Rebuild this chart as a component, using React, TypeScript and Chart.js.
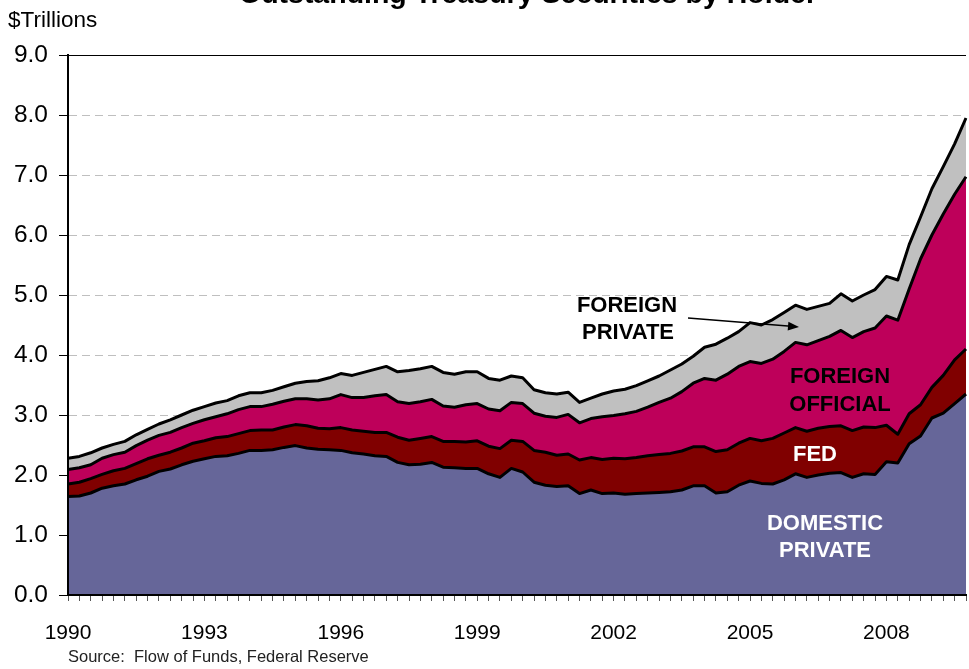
import React, { useEffect, useRef } from "react";
import { Chart, registerables } from "chart.js";

Chart.register(...registerables);

const years = [1990, 1991, 1992, 1993, 1994, 1995, 1996, 1997, 1998, 1999, 2000, 2001, 2002, 2003, 2004, 2005, 2006, 2007, 2008, 2009];
const quarters = ["Q1", "Q2", "Q3", "Q4"];
const yearTickLabels = ["1990", "1993", "1996", "1999", "2002", "2005", "2008"];
const yTicks = [0, 1, 2, 3, 4, 5, 6, 7, 8, 9];

const domesticPrivate = [
  1.64, 1.65, 1.70, 1.78, 1.82, 1.85, 1.92, 1.98, 2.06, 2.10,
  2.17, 2.23, 2.27, 2.31, 2.32, 2.36, 2.41, 2.41, 2.42, 2.46,
  2.49, 2.45, 2.43, 2.42, 2.41, 2.37, 2.35, 2.32, 2.31, 2.21,
  2.17, 2.18, 2.21, 2.13, 2.12, 2.11, 2.11, 2.02, 1.96, 2.11,
  2.05, 1.88, 1.83, 1.81, 1.82, 1.69, 1.75, 1.69, 1.70, 1.68,
  1.69, 1.70, 1.71, 1.72, 1.75, 1.82, 1.82, 1.70, 1.72, 1.83,
  1.90, 1.86, 1.85, 1.92, 2.02, 1.96, 2.00, 2.03, 2.04, 1.96,
  2.02, 2.01, 2.22, 2.20, 2.52, 2.65, 2.95, 3.03, 3.19, 3.35,
];
const fed = [
  0.21, 0.23, 0.24, 0.23, 0.25, 0.26, 0.27, 0.29, 0.27, 0.28,
  0.28, 0.30, 0.30, 0.31, 0.32, 0.33, 0.33, 0.34, 0.33, 0.34,
  0.35, 0.37, 0.35, 0.35, 0.38, 0.38, 0.38, 0.39, 0.40, 0.42,
  0.41, 0.43, 0.43, 0.43, 0.44, 0.44, 0.46, 0.46, 0.48, 0.47,
  0.51, 0.53, 0.55, 0.52, 0.53, 0.56, 0.54, 0.57, 0.58, 0.59,
  0.60, 0.62, 0.63, 0.64, 0.65, 0.65, 0.65, 0.69, 0.70, 0.70,
  0.71, 0.71, 0.76, 0.78, 0.77, 0.77, 0.78, 0.78, 0.78, 0.78,
  0.78, 0.78, 0.61, 0.48, 0.50, 0.52, 0.51, 0.63, 0.73, 0.75,
];
const foreignOfficial = [
  0.24, 0.24, 0.23, 0.27, 0.27, 0.27, 0.30, 0.31, 0.33, 0.33,
  0.34, 0.33, 0.35, 0.35, 0.38, 0.40, 0.40, 0.39, 0.43, 0.43,
  0.43, 0.45, 0.47, 0.50, 0.55, 0.54, 0.56, 0.61, 0.63, 0.59,
  0.61, 0.61, 0.62, 0.59, 0.57, 0.62, 0.62, 0.62, 0.63, 0.63,
  0.63, 0.62, 0.60, 0.63, 0.66, 0.62, 0.65, 0.71, 0.71, 0.75,
  0.77, 0.81, 0.87, 0.92, 0.99, 1.06, 1.14, 1.19, 1.26, 1.28,
  1.28, 1.29, 1.32, 1.36, 1.42, 1.44, 1.46, 1.50, 1.59, 1.55,
  1.59, 1.66, 1.82, 1.90, 2.08, 2.43, 2.54, 2.69, 2.76, 2.87,
];
const foreignPrivate = [
  0.19, 0.19, 0.20, 0.17, 0.17, 0.18, 0.18, 0.18, 0.19, 0.21,
  0.21, 0.22, 0.22, 0.23, 0.22, 0.23, 0.23, 0.23, 0.23, 0.24,
  0.26, 0.29, 0.32, 0.35, 0.35, 0.37, 0.42, 0.44, 0.47, 0.50,
  0.55, 0.55, 0.55, 0.56, 0.55, 0.55, 0.53, 0.51, 0.51, 0.44,
  0.43, 0.39, 0.39, 0.39, 0.37, 0.34, 0.34, 0.38, 0.41, 0.41,
  0.43, 0.44, 0.44, 0.47, 0.46, 0.45, 0.52, 0.60, 0.60, 0.58,
  0.65, 0.64, 0.66, 0.65, 0.62, 0.59, 0.57, 0.55, 0.61, 0.61,
  0.61, 0.64, 0.66, 0.67, 0.74, 0.70, 0.77, 0.79, 0.84, 0.98,
];

const FONT = '"Liberation Sans", Arial, Helvetica, sans-serif';

const labels = years.flatMap((y) => quarters.map((q) => `${y} ${q}`));

const textPlugin = {
  id: "textPlugin",
  afterDraw(chart: any) {
    const ctx = chart.ctx as CanvasRenderingContext2D;
    const area = chart.chartArea;
    ctx.save();
    // top border of plot area at 9.0
    ctx.strokeStyle = "#000";
    ctx.lineWidth = 1;
    ctx.beginPath();
    ctx.moveTo(area.left, Math.round(area.top) + 0.5);
    ctx.lineTo(area.right, Math.round(area.top) + 0.5);
    ctx.stroke();

    // Title (partially cut off at the top)
    ctx.fillStyle = "#000";
    ctx.font = `bold 28.5px ${FONT}`;
    ctx.textAlign = "center";
    ctx.textBaseline = "alphabetic";
    ctx.fillText("Outstanding Treasury Securities by Holder", 528, 3);

    ctx.font = `22.5px ${FONT}`;
    ctx.textAlign = "left";
    ctx.textBaseline = "middle";
    ctx.fillText("$Trillions", 8, 21);

    ctx.font = `16.5px ${FONT}`;
    ctx.fillStyle = "#222";
    ctx.fillText("Source:  Flow of Funds, Federal Reserve", 68, 657);

    ctx.font = `bold 22px ${FONT}`;
    ctx.textAlign = "center";
    ctx.fillStyle = "#000";
    ctx.fillText("FOREIGN", 627, 306);
    ctx.fillText("PRIVATE", 628, 333);
    ctx.fillText("FOREIGN", 840, 377);
    ctx.fillText("OFFICIAL", 840, 405);
    ctx.fillStyle = "#fff";
    ctx.fillText("FED", 815, 455);
    ctx.fillText("DOMESTIC", 825, 524);
    ctx.fillText("PRIVATE", 825, 551);

    // arrow
    const x1 = 688, y1 = 318, x2 = 799, y2 = 327;
    ctx.strokeStyle = "#000";
    ctx.lineWidth = 1.5;
    ctx.beginPath();
    ctx.moveTo(x1, y1);
    ctx.lineTo(x2 - 8, y2 - 0.65);
    ctx.stroke();
    const ang = Math.atan2(y2 - y1, x2 - x1);
    ctx.fillStyle = "#000";
    ctx.beginPath();
    ctx.moveTo(x2, y2);
    ctx.lineTo(x2 - 11 * Math.cos(ang) + 4.5 * Math.sin(ang), y2 - 11 * Math.sin(ang) - 4.5 * Math.cos(ang));
    ctx.lineTo(x2 - 11 * Math.cos(ang) - 4.5 * Math.sin(ang), y2 - 11 * Math.sin(ang) + 4.5 * Math.cos(ang));
    ctx.closePath();
    ctx.fill();
    ctx.restore();
  },
};

export default function App() {
  const ref = useRef<HTMLCanvasElement | null>(null);
  useEffect(() => {
    if (!ref.current) return;
    const common = {
      borderColor: "#000",
      borderWidth: 3,
      pointRadius: 0,
      tension: 0,
      borderJoinStyle: "round" as const,
    };
    const chart = new Chart(ref.current, {
      type: "line",
      data: {
        labels,
        datasets: [
          { label: "Domestic Private", data: domesticPrivate, backgroundColor: "#666699", fill: "origin", ...common },
          { label: "Fed", data: fed, backgroundColor: "#800000", fill: "-1", ...common },
          { label: "Foreign Official", data: foreignOfficial, backgroundColor: "#BE005A", fill: "-1", ...common },
          { label: "Foreign Private", data: foreignPrivate, backgroundColor: "#C0C0C0", fill: "-1", ...common },
        ],
      },
      options: {
        animation: false,
        responsive: false,
        maintainAspectRatio: false,
        layout: { padding: { top: 55, right: 3, bottom: 0, left: 0 } },
        plugins: {
          legend: { display: false },
          title: { display: false },
          tooltip: { enabled: false },
        },
        scales: {
          x: {
            type: "category",
            offset: false,
            afterFit: (s: any) => {
              s.height = 74;
              s.paddingRight = 0;
              s.paddingLeft = 0;
            },
            grid: {
              display: true,
              drawOnChartArea: false,
              drawTicks: true,
              tickLength: 6,
              tickColor: "#555",
              tickWidth: 1,
              offset: false,
            },
            border: { display: true, color: "#000", width: 2, z: 1 },
            ticks: {
              autoSkip: false,
              maxRotation: 0,
              minRotation: 0,
              padding: 20,
              color: "#000",
              font: { family: FONT, size: 21 },
              callback: (_v: any, i: number) => {
                const y = labels[i].slice(0, 4);
                return i % 4 === 0 && yearTickLabels.includes(y) ? y : "";
              },
            },
          },
          y: {
            stacked: true,
            min: yTicks[0],
            max: yTicks[yTicks.length - 1],
            afterFit: (s: any) => {
              s.width = 68;
              s.paddingTop = 0;
              s.paddingBottom = 0;
            },
            afterBuildTicks: (s: any) => { s.ticks = yTicks.map((v) => ({ value: v })); },
            grid: {
              color: "#BFBFBF",
              lineWidth: 1,
              drawTicks: true,
              tickLength: 9,
              tickColor: "#000",
              tickWidth: 1,
            },
            border: { display: true, color: "#000", width: 2, z: 1, dash: [8, 5] },
            ticks: {
              padding: 11,
              color: "#000",
              font: { family: FONT, size: 24.5 },
              callback: (v: any) => Number(v).toFixed(1),
            },
          },
        },
      },
      plugins: [textPlugin],
    });
    return () => chart.destroy();
  }, []);
  return (
    <div style={{ position: "absolute", left: 0, top: 0, width: 969, height: 669, background: "#fff" }}>
      <canvas ref={ref} width={969} height={669} style={{ width: 969, height: 669, display: "block" }} />
    </div>
  );
}
